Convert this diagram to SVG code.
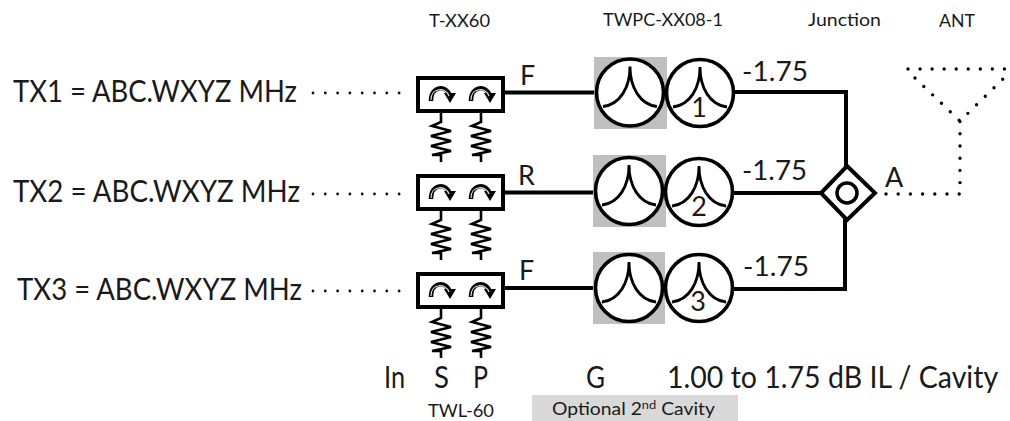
<svg xmlns="http://www.w3.org/2000/svg" width="1010" height="421" viewBox="0 0 1010 421">
<style>
text{font-family:Lato,"Liberation Sans",sans-serif;fill:#1a1a1a}
.tx{font-size:31px}.lb{font-size:27px}.big{font-size:30px}.sm{font-size:18px}
.wire{fill:none;stroke:#000;stroke-width:4}
.thin{fill:none;stroke:#000;stroke-width:2.8}
.res{fill:none;stroke:#000;stroke-width:2.600}
.arc{fill:none;stroke:#000;stroke-width:4.500}
.arcin{fill:none;stroke:#ddd;stroke-width:1.200}
.dots{fill:none;stroke:#000;stroke-width:3.400;stroke-linecap:round;stroke-dasharray:0 12.2}
.dotd{fill:none;stroke:#000;stroke-width:3.400;stroke-linecap:round;stroke-dasharray:0 12.05}
.tdot{fill:none;stroke:#111;stroke-width:2.800;stroke-linecap:round;stroke-dasharray:0 12.3}
.shade{fill:#bfbfbf}
.box{fill:#fff;stroke:#000;stroke-width:4}
.circ{fill:#fff;stroke:#000;stroke-width:3.600}
</style>
<defs>
<g id="iso">
<rect class="box" x="-44" y="-16" width="85" height="33"/>
<path class="arc" d="M-31 7C-31 -9 -15 -9 -12 2"/>
<path d="M-18 -1L-12 9L-6 -1Z" fill="#000"/>
<path class="arcin" d="M-31 6C-31 -7 -16 -7 -13 2"/>
<path class="arc" d="M9 7C9 -9 25 -9 28 2"/>
<path d="M22 -1L28 9L34 -1Z" fill="#000"/>
<path class="arcin" d="M9 6C9 -7 24 -7 27 2"/>
<path class="res" transform="translate(-21 0)" d="M0 17V28L-9 32L10 37L-10 42L10 47L-10 52L10 57L-9 61L0 61V68"/>
<path class="res" transform="translate(19 0)" d="M0 17V28L-9 32L10 37L-10 42L10 47L-10 52L10 57L-9 61L0 61V68"/>
</g>
<g id="cav">
<circle class="circ" r="33.5"/>
<path class="thin" d="M0 -26C0 -5 -10 12 -27 14M0 -26C0 -5 10 12 27 14"/>
</g>
</defs>

<g id="connectors">
<path class="wire" d="M503 92.500H596"/>
<path class="wire" d="M503 192.500H595"/>
<path class="wire" d="M503 288H595"/>
<path class="wire" d="M733 92H846V166"/>
<path class="wire" d="M733 193H820"/>
<path class="wire" d="M733 289H845V219"/>
<path class="tdot" d="M313 93H400"/>
<path class="tdot" d="M313 194H400"/>
<path class="tdot" d="M313 291H400"/>
<path class="dots" d="M886 194H960V120"/>
</g>

<g id="ant">
<path class="dotd" d="M908 69H1010"/>
<path class="dots" d="M915 78L960 121L1006 76"/>
</g>

<g id="labels-top">
<text class="sm" x="429" y="27" textLength="61" lengthAdjust="spacingAndGlyphs">T-XX60</text>
<text class="sm" x="603" y="26" textLength="120" lengthAdjust="spacingAndGlyphs">TWPC-XX08-1</text>
<text class="sm" x="808" y="26" textLength="73" lengthAdjust="spacingAndGlyphs">Junction</text>
<text class="sm" x="939" y="27" textLength="36" lengthAdjust="spacingAndGlyphs">ANT</text>
</g>

<g id="tx1"><text class="tx" x="13" y="102" textLength="284" lengthAdjust="spacingAndGlyphs">TX1 = ABC.WXYZ MHz</text></g>
<g id="tx2"><text class="tx" x="13" y="202" textLength="287" lengthAdjust="spacingAndGlyphs">TX2 = ABC.WXYZ MHz</text></g>
<g id="tx3"><text class="tx" x="17" y="300" textLength="285" lengthAdjust="spacingAndGlyphs">TX3 = ABC.WXYZ MHz</text></g>

<g id="isolator1"><use href="#iso" x="462" y="94"/></g>
<g id="isolator2"><use href="#iso" x="462" y="192"/></g>
<g id="isolator3"><use href="#iso" x="462" y="290"/></g>

<g id="row1-labels"><text class="lb" x="520" y="85">F</text><text class="lb" x="742" y="81" textLength="66" lengthAdjust="spacingAndGlyphs">-1.75</text></g>
<g id="row2-labels"><text class="lb" x="518" y="185">R</text><text class="lb" x="742" y="180" textLength="65" lengthAdjust="spacingAndGlyphs">-1.75</text></g>
<g id="row3-labels"><text class="lb" x="519" y="280">F</text><text class="lb" x="743" y="276" textLength="66" lengthAdjust="spacingAndGlyphs">-1.75</text></g>

<g id="cavity1a"><rect class="shade" x="594" y="57" width="73" height="72"/><use href="#cav" x="630" y="92.500"/></g>
<g id="cavity2a"><rect class="shade" x="593" y="155" width="73" height="72"/><use href="#cav" x="629" y="191"/></g>
<g id="cavity3a"><rect class="shade" x="593" y="252" width="72" height="72"/><use href="#cav" x="629" y="288"/></g>
<g id="cavity1b"><use href="#cav" x="700" y="93"/><text class="lb" x="699" y="117" text-anchor="middle">1</text></g>
<g id="cavity2b"><use href="#cav" x="699" y="192"/><text class="lb" x="699" y="216" text-anchor="middle">2</text></g>
<g id="cavity3b"><use href="#cav" x="699" y="288"/><text class="lb" x="698" y="311" text-anchor="middle">3</text></g>

<g id="junction">
<path class="box" d="M847 166L875 193L847 220L821 193Z"/>
<circle cx="847" cy="193" r="10" fill="#fff" stroke="#000" stroke-width="3.500"/>
</g>
<g id="a-label"><text class="lb" x="885" y="187">A</text></g>

<g id="labels-bottom">
<text class="big" x="384" y="388" textLength="21" lengthAdjust="spacingAndGlyphs">In</text>
<text class="big" x="434" y="388" textLength="15" lengthAdjust="spacingAndGlyphs">S</text>
<text class="big" x="473" y="388" textLength="15" lengthAdjust="spacingAndGlyphs">P</text>
<text class="big" x="586" y="388" textLength="19" lengthAdjust="spacingAndGlyphs">G</text>
<text class="big" transform="translate(667 388) scale(.951 1)" x="0" y="0">1.00 to 1.75 dB IL / Cavity</text>
<text class="sm" x="428" y="417" textLength="66" lengthAdjust="spacingAndGlyphs">TWL-60</text>
</g>
<g id="optional">
<rect x="532" y="395" width="206" height="26" fill="#d9d9d9"/>
<text class="sm" x="552" y="415" textLength="163" lengthAdjust="spacingAndGlyphs">Optional 2<tspan font-size="12" dy="-6">nd</tspan><tspan dy="6"> Cavity</tspan></text>
</g>
</svg>
